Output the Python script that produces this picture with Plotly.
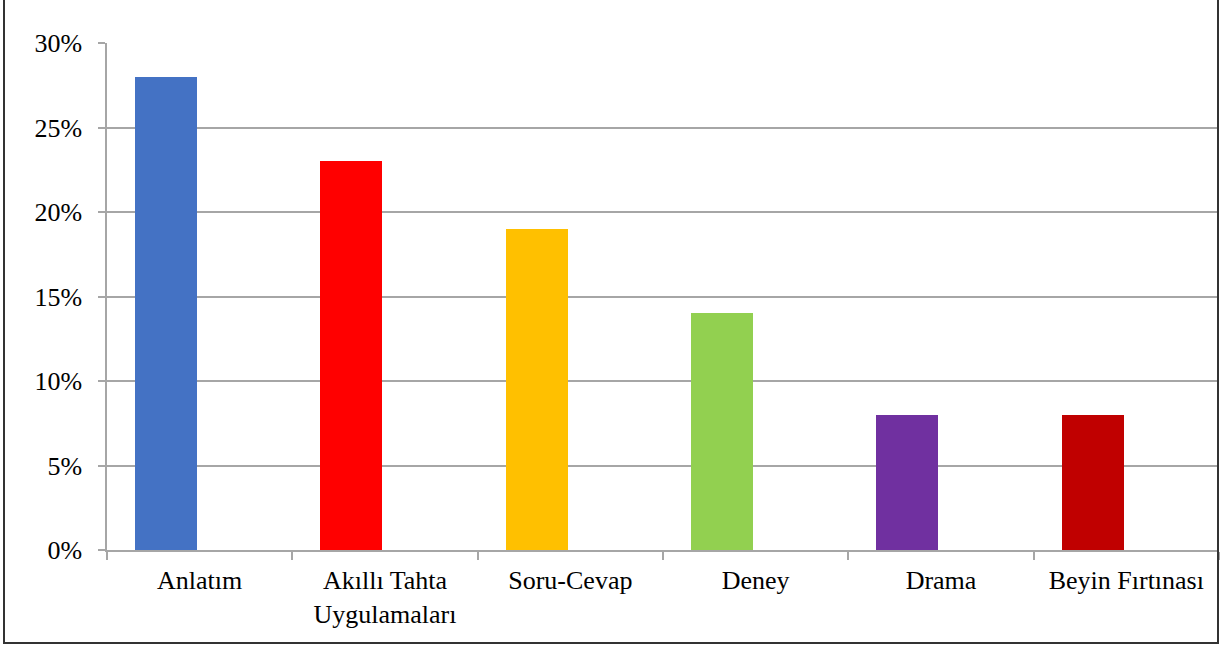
import plotly.graph_objects as go

categories = ["Anlatım", "Akıllı Tahta<br>Uygulamaları", "Soru-Cevap", "Deney", "Drama", "Beyin Fırtınası"]
values = [28, 23, 19, 14, 8, 8]
colors = ["#4472C4", "#FF0000", "#FFC000", "#92D050", "#7030A0", "#C00000"]

W, H = 1227, 648
L, R, T, B = 107, 8, 43, 98
pw = W - L - R
ph = H - T - B

fig = go.Figure()
fig.add_trace(go.Bar(
    x=categories, y=values,
    marker=dict(color=colors, line=dict(width=0)),
    width=0.335, offset=-0.349,
    hoverinfo="x+y",
))

xfont = dict(family="Liberation Serif", size=26, color="#000000")
yfont = dict(family="Liberation Serif", size=26, color="#000000")

fig.update_layout(
    width=W, height=H,
    margin=dict(l=L, r=R, t=T, b=B, pad=0),
    paper_bgcolor="white", plot_bgcolor="white",
    showlegend=False,
    font=xfont,
    bargap=0,
    xaxis=dict(
        type="category", range=[-0.5, 5.5],
        showgrid=False, showline=True, linecolor="#A6A6A6", linewidth=1.5,
        ticks="outside", tickson="boundaries", ticklen=8, tickcolor="#A6A6A6", tickwidth=1.5,
        tickfont=xfont, ticklabelstandoff=6,
    ),
    yaxis=dict(
        range=[0, 30], dtick=5, ticksuffix="%",
        showgrid=True, gridcolor="#A6A6A6", gridwidth=1.5,
        showline=True, linecolor="#A6A6A6", linewidth=1.5,
        ticks="outside", ticklen=7, tickcolor="#A6A6A6", tickwidth=1.5,
        tickfont=yfont, ticklabelstandoff=11, zeroline=False,
    ),
)

# outer chart border
x0 = (4 - L) / pw
x1 = (1218 - L) / pw
y0 = (H - B - 643) / ph
y1 = (H - B + 1) / ph
fig.add_shape(type="rect", xref="paper", yref="paper", x0=x0, x1=x1, y0=y0, y1=y1,
              line=dict(color="#333333", width=2), fillcolor="rgba(0,0,0,0)", layer="above")

fig.write_html("out.html")
